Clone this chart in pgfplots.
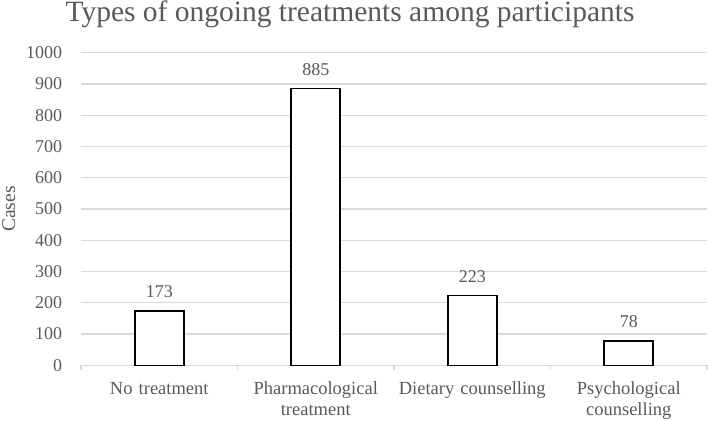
\documentclass[border=0pt]{standalone}
\usepackage{pgfplots}
\pgfplotsset{compat=1.18}
\usepackage{fontspec}
\setmainfont{Liberation Serif}
\definecolor{txt}{HTML}{595959}
\definecolor{grd}{HTML}{D9D9D9}
\begin{document}
\begin{tikzpicture}[x=1pt,y=1pt]
\useasboundingbox (0,0) rectangle (708,420);
\begin{axis}[
  at={(81pt,54.7pt)}, anchor=south west,
  scale only axis, width=626pt, height=312.6pt,
  xmin=-0.5, xmax=3.5, ymin=0, ymax=1000,
  ybar, bar width=49pt,
  axis x line*=bottom, axis y line*=left,
  y axis line style={draw=none},
  x axis line style={draw=grd, line width=1.3pt},
  ytick={0,100,...,1000},
  ymajorgrids, grid style={draw=grd, line width=1.3pt},
  ytick style={draw=none},
  xtick={0,1,2,3},
  xticklabels={No treatment, Pharmacological\\treatment, Dietary counselling, Psychological\\counselling},
  major x tick style={draw=none},
  minor xtick={-0.5,0.5,1.5,2.5,3.5},
  minor x tick style={draw=grd, line width=1.3pt},
  minor tick length=5pt,
  tick align=outside,
  /pgf/number format/assume math mode=true,
  /pgf/number format/1000 sep={},
  yticklabel style={font=\fontsize{18}{18}\selectfont, text=txt, xshift=-11pt},
  xticklabel style={font=\fontsize{18.5}{21}\selectfont, text=txt, text width=160pt, align=center, anchor=north, yshift=-9pt},
  ylabel={Cases},
  ylabel style={at={(axis description cs:-0.1054,0.5)}, anchor=base, font=\fontsize{19.5}{20}\selectfont, text=txt},
  title={Types of ongoing treatments among participants},
  title style={at={(axis description cs:0.4297,1)}, anchor=base, yshift=24.7pt, font=\fontsize{29.5}{30}\selectfont, text=txt},
  nodes near coords,
  every node near coord/.append style={anchor=base, yshift=13.5pt, font=\fontsize{18}{18}\selectfont, text=txt},
  clip=false,
]
\addplot[draw=black, fill=white, line width=1.6pt] coordinates {(0,173) (1,885) (2,223) (3,78)};
\end{axis}
\end{tikzpicture}
\end{document}
